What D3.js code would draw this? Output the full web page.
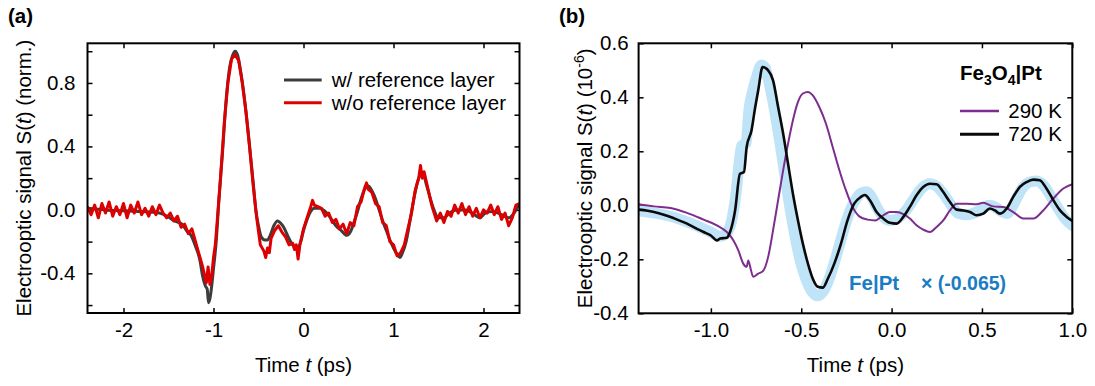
<!DOCTYPE html>
<html><head><meta charset="utf-8">
<script src="https://cdn.jsdelivr.net/npm/d3@7"></script>
<style>
body{margin:0;background:#fff}
svg{display:block}
text{font-family:"Liberation Sans",Arial,Helvetica,sans-serif}
</style>
</head><body>
<svg id="c" width="1095" height="386"></svg>
<script>
// ---------- Panel (a) data ----------
const refT = [-2.4,-2.2,-2.0,-1.8,-1.6,-1.5,-1.45,-1.35,-1.3,-1.25,-1.2,-1.15,-1.12,-1.09,-1.07,-1.055,-1.04,-1.02,-1.0,-0.97,-0.94,-0.9,-0.86,-0.82,-0.79,-0.76,-0.73,-0.7,-0.66,-0.62,-0.59,-0.56,-0.53,-0.5,-0.47,-0.43,-0.4,-0.37,-0.33,-0.29,-0.26,-0.22,-0.17,-0.12,-0.07,-0.03,0.0,0.04,0.08,0.12,0.18,0.24,0.3,0.36,0.42,0.48,0.52,0.56,0.6,0.64,0.68,0.72,0.76,0.8,0.84,0.88,0.92,0.96,1.0,1.04,1.07,1.1,1.14,1.18,1.22,1.26,1.3,1.33,1.37,1.41,1.45,1.5,1.56,1.62,1.7,1.8,1.9,1.96,2.02,2.1,2.2,2.28,2.34,2.4];
const refS = [0.01,0.0,-0.005,-0.01,-0.02,-0.045,-0.065,-0.09,-0.13,-0.16,-0.23,-0.32,-0.42,-0.48,-0.5,-0.585,-0.56,-0.48,-0.37,-0.2,0.06,0.36,0.69,0.9,0.97,1.0,0.97,0.88,0.72,0.52,0.35,0.18,0.0,-0.1,-0.17,-0.19,-0.19,-0.16,-0.1,-0.07,-0.08,-0.11,-0.17,-0.22,-0.24,-0.2,-0.13,-0.06,-0.01,0.01,0.01,-0.01,-0.05,-0.1,-0.13,-0.16,-0.14,-0.08,-0.01,0.07,0.13,0.15,0.12,0.07,0.0,-0.07,-0.13,-0.19,-0.24,-0.28,-0.3,-0.27,-0.2,-0.08,0.05,0.16,0.22,0.22,0.15,0.07,0.0,-0.05,-0.05,-0.02,0.0,0.0,-0.03,-0.05,-0.02,-0.01,-0.03,-0.05,-0.02,0.04];

const noRefT = [-2.40,-2.36,-2.32,-2.28,-2.24,-2.20,-2.16,-2.12,-2.08,-2.04,
  -2.00,-1.96,-1.92,-1.88,-1.84,-1.80,-1.76,-1.72,-1.68,-1.64,
  -1.60,-1.56,-1.52,-1.48,-1.44,-1.40,-1.36,-1.32,-1.28,-1.24,
  -1.20,-1.16,-1.12,-1.08,-1.06,-1.04,-1.02,-1.00,-0.98,-0.96,
  -0.92,-0.88,-0.84,-0.80,-0.76,-0.72,-0.68,-0.64,-0.60,-0.56,
  -0.52,-0.48,-0.44,-0.42,-0.40,-0.38,-0.36,-0.32,-0.28,-0.24,
  -0.20,-0.16,-0.12,-0.10,-0.08,-0.06,-0.04,0.00,0.04,0.08,
  0.10,0.12,0.16,0.20,0.24,0.28,0.32,0.36,0.40,0.44,
  0.48,0.52,0.56,0.60,0.64,0.68,0.70,0.72,0.76,0.80,
  0.84,0.88,0.92,0.96,1.00,1.04,1.08,1.12,1.16,1.20,
  1.24,1.28,1.30,1.32,1.34,1.38,1.42,1.44,1.48,1.52,
  1.56,1.60,1.64,1.68,1.72,1.76,1.80,1.84,1.88,1.92,
  1.96,2.00,2.04,2.08,2.12,2.16,2.20,2.24,2.28,2.32,
  2.36,2.40];
const noRefS = [0.02,-0.03,0.03,-0.05,0.04,-0.02,0.05,-0.04,0.02,-0.03,
  0.04,-0.05,0.03,-0.02,0.05,-0.03,0.01,-0.04,0.02,-0.03,
  0.03,-0.02,-0.05,-0.02,-0.07,-0.04,-0.11,-0.09,-0.15,-0.12,
  -0.20,-0.28,-0.36,-0.46,-0.36,-0.47,-0.42,-0.30,-0.22,-0.08,
  0.22,0.55,0.80,0.95,0.98,0.94,0.80,0.62,0.40,0.16,
  -0.05,-0.22,-0.26,-0.30,-0.24,-0.27,-0.18,-0.13,-0.10,-0.14,
  -0.17,-0.22,-0.21,-0.25,-0.22,-0.31,-0.22,-0.12,-0.05,0.02,
  0.06,0.03,0.02,0.01,-0.04,-0.02,-0.08,-0.06,-0.12,-0.09,
  -0.15,-0.08,-0.10,0.02,0.05,0.14,0.17,0.13,0.11,0.04,
  0.02,-0.08,-0.10,-0.20,-0.22,-0.29,-0.27,-0.22,-0.12,-0.02,
  0.12,0.20,0.28,0.20,0.24,0.14,0.04,0.00,-0.07,-0.02,
  -0.08,-0.01,-0.04,0.03,-0.02,0.04,-0.03,0.02,-0.04,0.01,
  -0.05,0.00,-0.02,0.03,-0.03,0.02,-0.06,-0.02,-0.10,-0.05,
  0.03,0.04];

const aXTicks = [-2,-1,0,1,2];
const aYTicks = [-0.6,-0.4,-0.2,0,0.2,0.4,0.6,0.8,1.0];
const aYLabels = [-0.4,0,0.4,0.8];
const aLegend = ["w/ reference layer","w/o reference layer"];

// ---------- Panel (b) data ----------
const t290 = [-1.4,-1.315,-1.223,-1.132,-1.04,-0.967,-0.912,-0.875,-0.848,-0.821,-0.802,-0.793,-0.78,-0.766,-0.738,-0.711,-0.683,-0.656,-0.628,-0.6,-0.573,-0.546,-0.518,-0.491,-0.463,-0.436,-0.4,-0.363,-0.326,-0.289,-0.253,-0.216,-0.179,-0.134,-0.09,-0.046,-0.009,0.028,0.065,0.101,0.138,0.175,0.212,0.249,0.286,0.323,0.36,0.415,0.47,0.507,0.563,0.618,0.673,0.729,0.784,0.839,0.895,0.95,1.0];
const s290 = [0.004,-0.004,-0.01,-0.028,-0.053,-0.074,-0.099,-0.13,-0.167,-0.216,-0.228,-0.204,-0.235,-0.265,-0.253,-0.243,-0.191,-0.093,0.019,0.13,0.228,0.315,0.383,0.414,0.42,0.407,0.364,0.302,0.216,0.13,0.056,-0.006,-0.041,-0.053,-0.056,-0.037,-0.025,-0.025,-0.033,-0.049,-0.074,-0.09,-0.099,-0.08,-0.056,-0.019,0.006,0.006,0.004,0.009,-0.004,-0.006,-0.025,-0.049,-0.049,-0.019,0.025,0.062,0.078];

const t720 = [-1.4,-1.35,-1.315,-1.27,-1.223,-1.18,-1.132,-1.09,-1.04,-1.0,-0.967,-0.949,-0.912,-0.894,-0.866,-0.839,-0.817,-0.802,-0.775,-0.756,-0.738,-0.714,-0.683,-0.656,-0.628,-0.6,-0.573,-0.546,-0.518,-0.491,-0.463,-0.436,-0.408,-0.381,-0.353,-0.317,-0.28,-0.244,-0.207,-0.17,-0.148,-0.12,-0.083,-0.046,-0.009,0.028,0.065,0.101,0.138,0.175,0.212,0.249,0.286,0.323,0.36,0.397,0.434,0.47,0.507,0.544,0.572,0.6,0.637,0.673,0.71,0.747,0.784,0.82,0.857,0.895,0.932,0.969,1.0];
const s720 = [-0.016,-0.02,-0.025,-0.033,-0.043,-0.055,-0.068,-0.083,-0.099,-0.112,-0.13,-0.123,-0.12,-0.099,-0.019,0.117,0.123,0.216,0.278,0.358,0.426,0.512,0.5,0.463,0.364,0.265,0.154,0.043,-0.056,-0.142,-0.216,-0.272,-0.302,-0.305,-0.272,-0.216,-0.142,-0.056,0.006,0.031,0.038,0.019,-0.025,-0.049,-0.065,-0.068,-0.043,-0.006,0.037,0.068,0.08,0.078,0.049,0.012,-0.016,-0.019,-0.025,-0.037,-0.031,-0.012,-0.019,-0.031,-0.012,0.031,0.068,0.086,0.095,0.093,0.062,0.019,-0.019,-0.043,-0.058];

const tFe = [-1.4,-1.3,-1.2,-1.1,-1.0,-0.95,-0.91,-0.88,-0.86,-0.845,-0.83,-0.805,-0.79,-0.77,-0.75,-0.72,-0.7,-0.68,-0.65,-0.62,-0.59,-0.56,-0.53,-0.5,-0.47,-0.44,-0.41,-0.38,-0.35,-0.32,-0.29,-0.26,-0.23,-0.2,-0.17,-0.14,-0.11,-0.08,-0.05,-0.02,0.01,0.05,0.09,0.13,0.17,0.21,0.25,0.29,0.33,0.37,0.41,0.45,0.5,0.54,0.57,0.6,0.64,0.68,0.72,0.76,0.8,0.84,0.88,0.92,0.96,1.0];
const sFe = [-0.02,-0.03,-0.045,-0.07,-0.1,-0.115,-0.1,-0.04,0.05,0.15,0.22,0.23,0.35,0.42,0.47,0.52,0.51,0.46,0.36,0.24,0.11,-0.02,-0.13,-0.22,-0.28,-0.32,-0.335,-0.32,-0.28,-0.22,-0.15,-0.08,-0.02,0.02,0.045,0.05,0.03,-0.01,-0.04,-0.055,-0.055,-0.04,-0.01,0.03,0.065,0.08,0.07,0.04,0.0,-0.03,-0.035,-0.03,-0.015,0.0,-0.005,-0.02,-0.03,0.01,0.06,0.085,0.09,0.075,0.035,-0.01,-0.05,-0.075];

const bXTicks = [-1.0,-0.5,0.0,0.5,1.0];
const bYTicks = [-0.4,-0.2,0.0,0.2,0.4,0.6];
const bLegend = ["290 K","720 K"];
const bNote = ["Fe|Pt", "× (-0.065)"];

// ---------- drawing ----------
const FS = 20.5;
const svg = d3.select("#c");
const pts = (t, s) => d3.range(Math.min(t.length, s.length)).map(i => [t[i], s[i]]);

function frameAndAxes(x, y, xt, yt, fx, fy, padY, id) {
  const [x0, x1] = x.range(), [y0, y1] = y.range();
  svg.append("clipPath").attr("id", id).append("rect")
    .attr("x", x0).attr("y", y1).attr("width", x1 - x0).attr("height", y0 - y1);
  const style = g => {
    g.select(".domain").remove();
    g.selectAll("line").attr("stroke", "#000").attr("stroke-width", 1.5);
    g.selectAll("text").attr("font-size", FS).attr("fill", "#000")
      .attr("font-family", '"Liberation Sans",Arial,sans-serif');
    g.attr("font-family", null).attr("font-size", null);
  };
  svg.append("g").attr("transform", `translate(0,${y0})`)
    .call(d3.axisBottom(x).tickValues(xt).tickSize(-5).tickPadding(9).tickFormat(fx)).call(style);
  svg.append("g").attr("transform", `translate(0,${y1})`)
    .call(d3.axisTop(x).tickValues(xt).tickSize(-5).tickFormat("")).call(style);
  svg.append("g").attr("transform", `translate(${x0},0)`)
    .call(d3.axisLeft(y).tickValues(yt).tickSize(-5).tickPadding(padY).tickFormat(fy)).call(style);
  svg.append("g").attr("transform", `translate(${x1},0)`)
    .call(d3.axisRight(y).tickValues(yt).tickSize(-5).tickFormat("")).call(style);
  return {x0, x1, y0, y1};
}

function frameRect(f) {
  svg.append("rect").attr("x", f.x0).attr("y", f.y1)
    .attr("width", f.x1 - f.x0).attr("height", f.y0 - f.y1)
    .attr("fill", "none").attr("stroke", "#000").attr("stroke-width", 2);
}

// Panel (a)
const xa = d3.scaleLinear().domain([-2.4, 2.4]).range([87.5, 519.5]);
const ya = d3.scaleLinear().domain([-0.65, 1.05]).range([313, 43.3]);
const fa = frameAndAxes(xa, ya, aXTicks, aYTicks, d => String(d),
  d => aYLabels.some(v => Math.abs(v - d) < 1e-9) ? d.toFixed(1) : "", 12, "clipA");

const lineA = d3.line().x(d => xa(d[0])).y(d => ya(d[1]));
const gA = svg.append("g").attr("clip-path", "url(#clipA)");
gA.append("path").attr("d", lineA.curve(d3.curveMonotoneX)(pts(refT, refS)))
  .attr("fill", "none").attr("stroke", "#3d3d3d").attr("stroke-width", 3).attr("stroke-linejoin", "round");
gA.append("path").attr("d", lineA.curve(d3.curveLinear)(pts(noRefT, noRefS)))
  .attr("fill", "none").attr("stroke", "#dc0000").attr("stroke-width", 3).attr("stroke-linejoin", "round");
frameRect(fa);

// legend (a)
const legA = [{c: "#3d3d3d", y: 80}, {c: "#dc0000", y: 102.7}];
legA.forEach((l, i) => {
  svg.append("line").attr("x1", 284).attr("x2", 321.7).attr("y1", l.y).attr("y2", l.y)
    .attr("stroke", l.c).attr("stroke-width", 3);
  svg.append("text").attr("x", 331.7).attr("y", l.y + 7).attr("font-size", FS).text(aLegend[i]);
});

// Panel (b)
const xb = d3.scaleLinear().domain([-1.4, 1.0]).range([638.6, 1072.3]);
const yb = d3.scaleLinear().domain([-0.4, 0.6]).range([313.3, 43.3]);
const fb = frameAndAxes(xb, yb, bXTicks, bYTicks, d => d.toFixed(1), d => d.toFixed(1), 10, "clipB");

const lineB = d3.line().x(d => xb(d[0])).y(d => yb(d[1])).curve(d3.curveMonotoneX);
const gB = svg.append("g").attr("clip-path", "url(#clipB)");
gB.append("path").attr("d", lineB(pts(tFe, sFe)))
  .attr("fill", "none").attr("stroke", "#bfe4f8").attr("stroke-width", 11)
  .attr("stroke-linejoin", "round").attr("stroke-linecap", "round");
gB.append("path").attr("d", lineB(pts(t290, s290)))
  .attr("fill", "none").attr("stroke", "#7d2d8d").attr("stroke-width", 2).attr("stroke-linejoin", "round");
gB.append("path").attr("d", lineB(pts(t720, s720)))
  .attr("fill", "none").attr("stroke", "#0a0a0a").attr("stroke-width", 2.6).attr("stroke-linejoin", "round");
frameRect(fb);

// legend (b)
const tt = svg.append("text").attr("x", 960).attr("y", 80).attr("font-size", FS).attr("font-weight", "bold");
tt.append("tspan").text("Fe");
tt.append("tspan").attr("font-size", 14).attr("dy", 5).text("3");
tt.append("tspan").attr("dy", -5).text("O");
tt.append("tspan").attr("font-size", 14).attr("dy", 5).text("4");
tt.append("tspan").attr("dy", -5).text("|Pt");
const legB = [{c: "#7d2d8d", y: 111, w: 2.4}, {c: "#0a0a0a", y: 134.3, w: 3}];
legB.forEach((l, i) => {
  svg.append("line").attr("x1", 960).attr("x2", 999).attr("y1", l.y).attr("y2", l.y)
    .attr("stroke", l.c).attr("stroke-width", l.w);
  svg.append("text").attr("x", 1008.3).attr("y", l.y + 7).attr("font-size", FS).text(bLegend[i]);
});

// annotation
const note = svg.append("text").attr("y", 290).attr("font-size", FS).attr("font-weight", "bold").attr("fill", "#1a7cc3");
note.append("tspan").attr("x", 849).text(bNote[0]);
note.append("tspan").attr("x", 921).attr("font-size", 19.5).text(bNote[1]);

// axis titles
function xTitle(cx) {
  const t = svg.append("text").attr("x", cx).attr("y", 372).attr("text-anchor", "middle").attr("font-size", FS);
  t.append("tspan").text("Time ");
  t.append("tspan").attr("font-style", "italic").text("t");
  t.append("tspan").text(" (ps)");
}
xTitle((fa.x0 + fa.x1) / 2);
xTitle((fb.x0 + fb.x1) / 2);

const yA = svg.append("text").attr("transform", `translate(31,${(fa.y0 + fa.y1) / 2}) rotate(-90)`)
  .attr("text-anchor", "middle").attr("font-size", FS);
yA.append("tspan").text("Electrooptic signal S(");
yA.append("tspan").attr("font-style", "italic").text("t");
yA.append("tspan").text(") (norm.)");

const yB = svg.append("text").attr("transform", `translate(592,${(fb.y0 + fb.y1) / 2}) rotate(-90)`)
  .attr("text-anchor", "middle").attr("font-size", FS);
yB.append("tspan").text("Electrooptic signal S(");
yB.append("tspan").attr("font-style", "italic").text("t");
yB.append("tspan").text(") (10");
yB.append("tspan").attr("font-size", 14).attr("dy", -8).text("-6");
yB.append("tspan").attr("dy", 8).text(")");

// panel labels
svg.append("text").attr("x", 8).attr("y", 23).attr("font-size", FS).attr("font-weight", "bold").text("(a)");
svg.append("text").attr("x", 559).attr("y", 23).attr("font-size", FS).attr("font-weight", "bold").text("(b)");
</script>
</body></html>
